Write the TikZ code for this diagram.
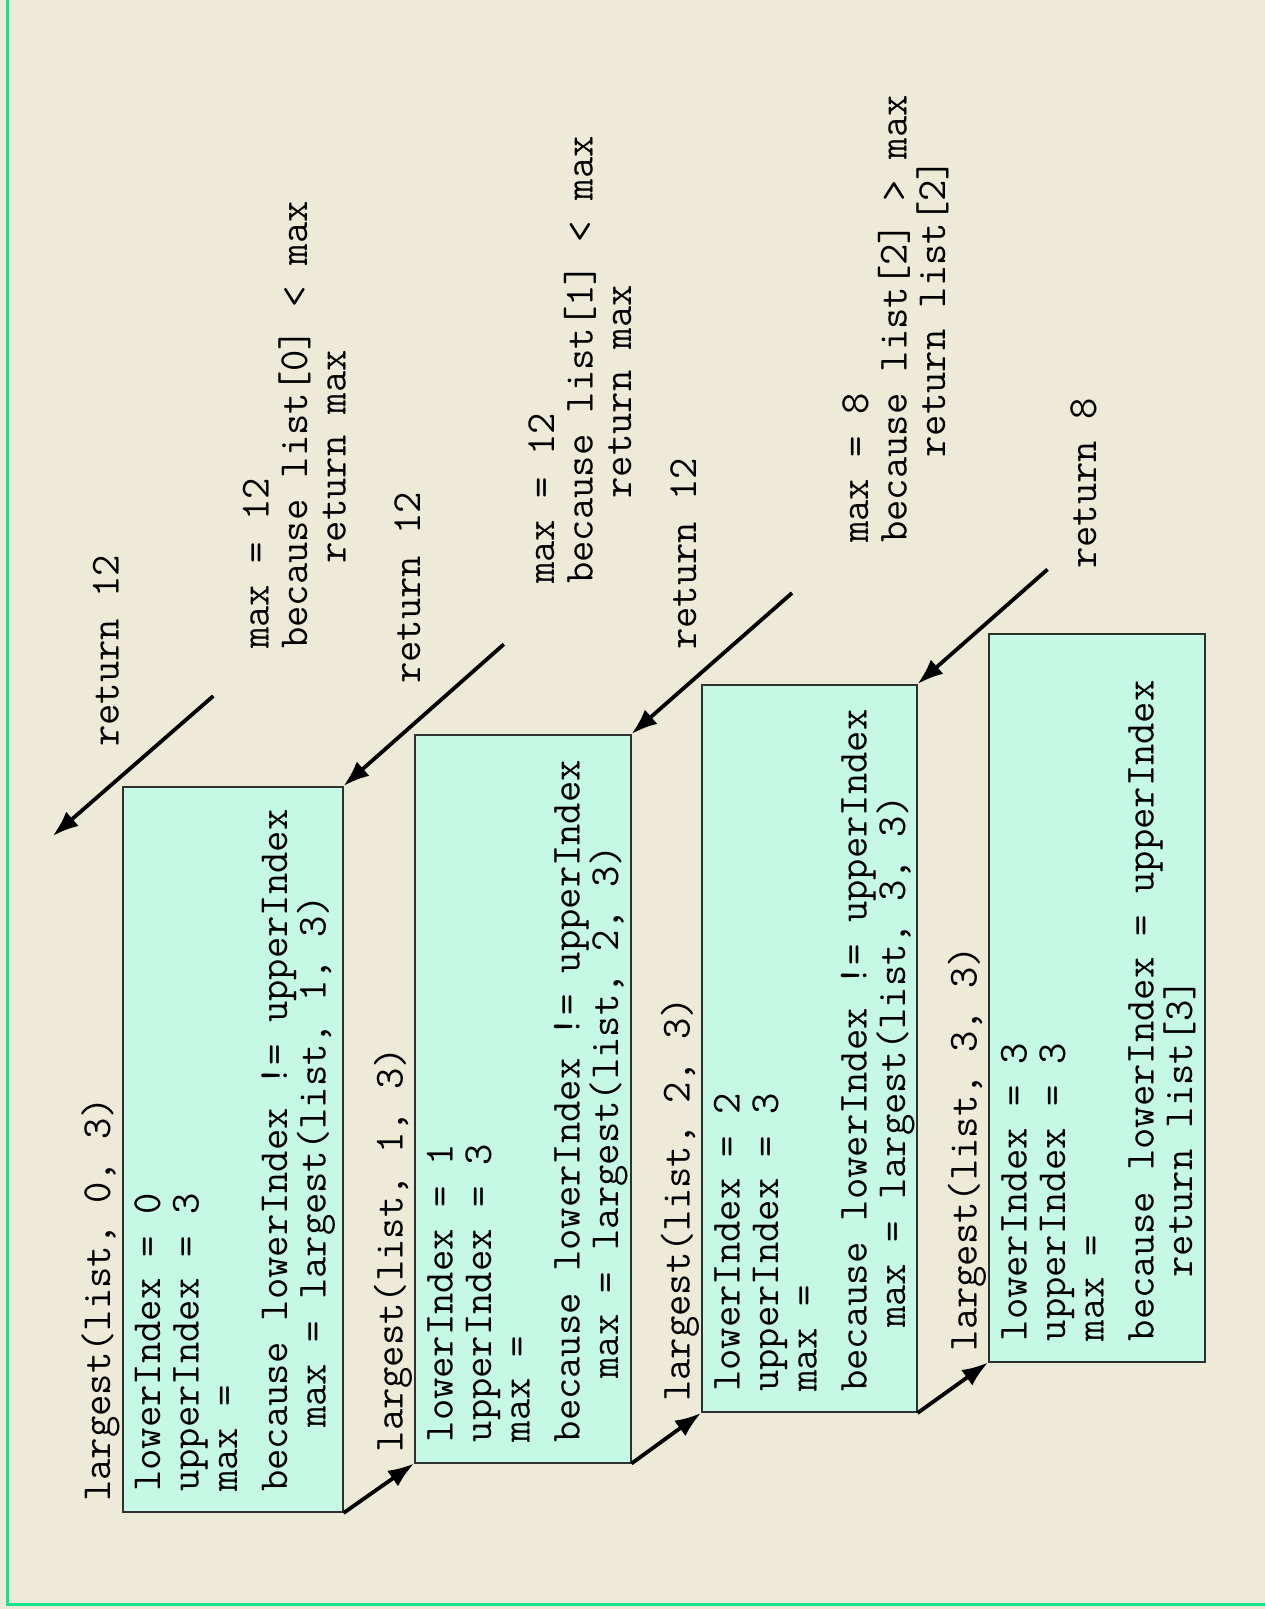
\documentclass[tikz,border=0pt]{standalone}
\usetikzlibrary{arrows.meta}
\definecolor{bgcol}{RGB}{237,235,216}
\definecolor{boxfill}{RGB}{198,248,230}
\definecolor{framegreen}{RGB}{16,228,140}
\definecolor{boxline}{RGB}{45,50,48}
\newcommand\tstrut{\rule{0pt}{30pt}}
\tikzset{
  txt/.style={rotate=90, anchor=north west, inner sep=0pt, align=left,
    font=\fontsize{41.4}{38.5}\ttfamily\selectfont, text=black},
  callbox/.style={draw=boxline, fill=boxfill, line width=2pt, inner sep=0pt},
  flow/.style={line width=3.8pt, -{Latex[length=26pt,width=19pt]}},
}
\begin{document}
\begin{tikzpicture}[x=1pt,y=-1pt]
\fill[bgcol] (0,0) rectangle (1265,1609);
\useasboundingbox (0,0) rectangle (1265,1609);
\draw[framegreen, line width=3pt] (7.5,-1.2) rectangle (1280,1604.5);

% call boxes
\node[callbox, minimum width=220pt, minimum height=725pt] (b1) at (232.5,1149.5) {};
\node[callbox, minimum width=215.5pt, minimum height=727.5pt] (b2) at (522.75,1098.75) {};
\node[callbox, minimum width=214.5pt, minimum height=727pt] (b3) at (809.25,1048.5) {};
\node[callbox, minimum width=216pt, minimum height=727.5pt] (b4) at (1097,997.75) {};

% headers
\node[txt] (h1) at (80,1502) {\tstrut largest(list, 0, 3)};
\node[txt] (h2) at (372.5,1452.5) {\tstrut largest(list, 1, 3)};
\node[txt] (h3) at (659.5,1402) {\tstrut largest(list, 2, 3)};
\node[txt] (h4) at (946.5,1351.5) {\tstrut largest(list, 3, 3)};

% box contents
\node[txt] (t1) at (130,1492) {\tstrut lowerIndex = 0\\ upperIndex = 3\\ max =\\[11.5pt]
  because lowerIndex != upperIndex\\ \phantom{xxx}max = largest(list, 1, 3)};
\node[txt] (t2) at (422.5,1442.5) {\tstrut lowerIndex = 1\\ upperIndex = 3\\ max =\\[11.5pt]
  because lowerIndex != upperIndex\\ \phantom{xxx}max = largest(list, 2, 3)};
\node[txt] (t3) at (709.5,1392) {\tstrut lowerIndex = 2\\ upperIndex = 3\\ max =\\[11.5pt]
  because lowerIndex != upperIndex\\ \phantom{xxx}max = largest(list, 3, 3)};
\node[txt] (t4) at (996.5,1341.5) {\tstrut lowerIndex = 3\\ upperIndex = 3\\ max =\\[11.5pt]
  because lowerIndex = upperIndex\\ \phantom{xxx}return list[3]};

% results
\node[txt] (m1) at (238.3,649) {\tstrut max = 12\\ because list[0] < max\\ \phantom{xxxx}return max};
\node[txt] (m2) at (524,584) {\tstrut max = 12\\ because list[1] < max\\ \phantom{xxxx}return max};
\node[txt] (m3) at (838,543) {\tstrut max = 8\\ because list[2] > max\\ \phantom{xxxx}return list[2]};

% return labels
\node[txt] (l1) at (88.3,747) {\tstrut return 12};
\node[txt] (l2) at (390,684) {\tstrut return 12};
\node[txt] (l3) at (666,650) {\tstrut return 12};
\node[txt] (l4) at (1066,569) {\tstrut return 8};

% connectors
\coordinate (r1tail) at (213.3,696);
\coordinate (r1tip) at (52.7,836);
\coordinate (r2tail) at (503.8,644.3);
\coordinate (r3tail) at (792,593);
\coordinate (r4tail) at (1047.5,569.4);

\draw[flow] (r1tail) -- (r1tip);
\draw[flow] (r2tail) -- (b1.north east);
\draw[flow] (r3tail) -- (b2.north east);
\draw[flow] (r4tail) -- (b3.north east);

\draw[flow] (b1.south east) -- (b2.south west);
\draw[flow] (b2.south east) -- (b3.south west);
\draw[flow] (b3.south east) -- (b4.south west);
\end{tikzpicture}
\end{document}
